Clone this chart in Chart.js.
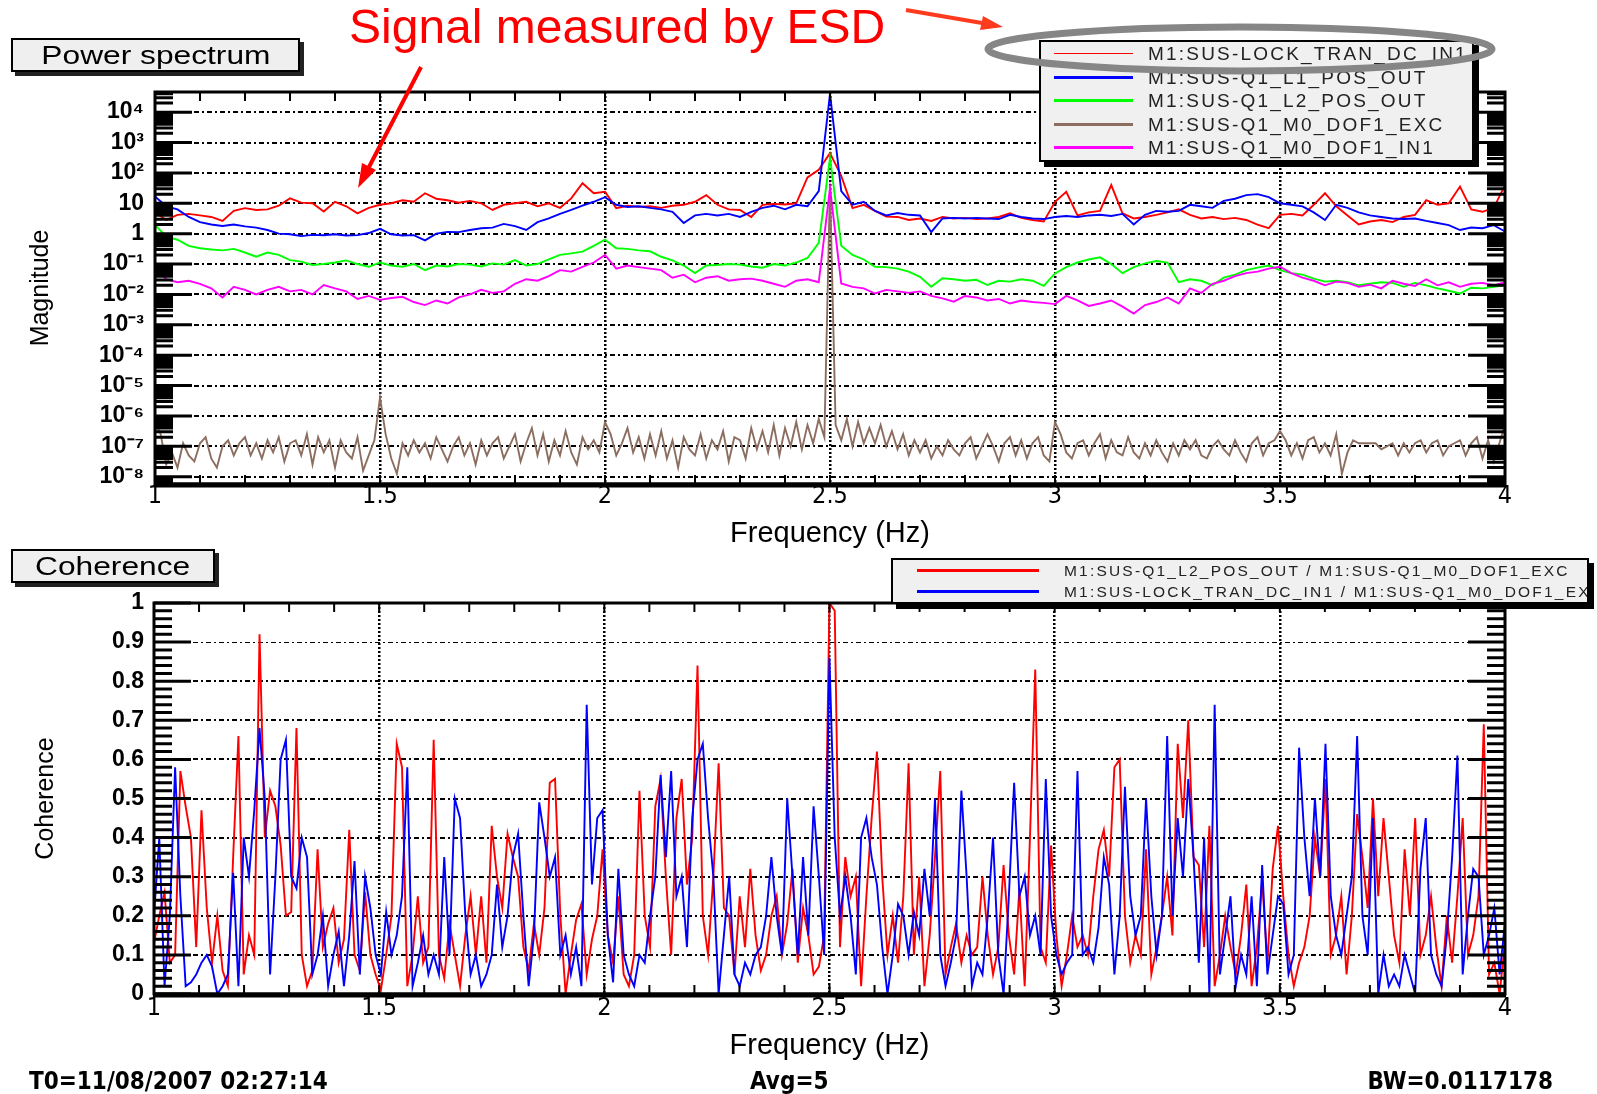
<!DOCTYPE html>
<html>
<head>
<meta charset="utf-8">
<title>Power spectrum / Coherence</title>
<script src="https://cdn.jsdelivr.net/npm/chart.js@4.4.1/dist/chart.umd.min.js"></script>
<style>
  html, body { margin: 0; padding: 0; background: #fff; }
  #page { position: relative; width: 1597px; height: 1094px; overflow: hidden; font-family: 'Liberation Sans', Arial, sans-serif; }
  #page canvas { position: absolute; left: 0; top: 0; }
  .tag { position: absolute; background: #efefef; border: 2px solid #000; box-shadow: 4px 4px 0 #222;
         font-size: 26px; text-align: center; color: #000; }
  .tag span { display: inline-block; transform: scaleX(1.22); }
  .legend { position: absolute; background: #f0f0f0; border: 2px solid #000; box-shadow: 5px 5px 0 #000;
            overflow: hidden; white-space: nowrap; color: #222; }
  .legend .row { position: relative; }
  .legend .swatch { position: absolute; }
  .legend .label { position: absolute; top: 0; }
  .foot { position: absolute; top: 1067px; font-family: 'Liberation Sans Narrow', 'DejaVu Sans Condensed', sans-serif;
          font-weight: bold; font-size: 24px; color: #000; }
  .note { position: absolute; left: 349px; top: -1px; color: #f00; font-size: 48px; white-space: nowrap; }
  svg { position: absolute; left: 0; top: 0; }
</style>
</head>
<body>
<div id="page">
  <canvas id="spectrum" width="1597" height="1094"></canvas>
  <canvas id="coherence" width="1597" height="1094"></canvas>

  <div class="tag" style="left:11px;top:38px;width:285px;height:30px;line-height:30px;"><span>Power spectrum</span></div>
  <div class="tag" style="left:11px;top:549px;width:200px;height:30px;line-height:30px;"><span>Coherence</span></div>

  <div id="specLegend" class="legend" style="left:1039px;top:40px;width:431px;height:118px;"></div>
  <div id="cohLegend" class="legend" style="left:891px;top:558px;width:694px;height:42px;"></div>

  <div class="note">Signal measured by ESD</div>

  <div class="foot" style="left:29px;">T0=11/08/2007 02:27:14</div>
  <div class="foot" style="left:750px;">Avg=5</div>
  <div class="foot" style="right:44px;">BW=0.0117178</div>

  <svg width="1597" height="1094">
    <ellipse cx="1240" cy="49" rx="252" ry="22" fill="none" stroke="#868686" stroke-width="7"/>
    <line x1="421" y1="67" x2="369" y2="167" stroke="#ff0000" stroke-width="4"/>
    <polygon points="358,188 376,170 362,163" fill="#ff0000"/>
    <line x1="906" y1="10" x2="982" y2="23" stroke="#ff3b1f" stroke-width="4"/>
    <polygon points="1003,27 980,30 983,16" fill="#ff3b1f"/>
  </svg>
</div>

<script>
// frequency grids (Hz)
const specStep = 0.025;       // magnitude traces
const excStep = 0.0125;       // excitation trace
const binWidth = 0.0117178;   // coherence bins (BW)

const freqLabels = [1, 1.5, 2, 2.5, 3, 3.5, 4];
const magDecades = [1e-8, 1e-7, 1e-6, 1e-5, 1e-4, 1e-3, 1e-2, 1e-1, 1, 10, 1e2, 1e3, 1e4];
const cohTicks = [0, 0.1, 0.2, 0.3, 0.4, 0.5, 0.6, 0.7, 0.8, 0.9, 1];

// log10 of magnitude, 1 Hz .. 4 Hz
const lockTranDcIn1 = [
  0.70, 0.45, 0.62, 0.65, 0.60, 0.55, 0.42, 0.75, 0.84, 0.78,
  0.80, 0.92, 1.16, 1.02, 1.00, 0.73, 1.05, 0.90, 0.67, 0.85,
  0.95, 1.00, 1.10, 1.05, 1.33, 1.15, 1.10, 1.02, 1.08, 1.00,
  0.78, 0.95, 1.00, 1.05, 0.90, 1.00, 0.85, 1.16, 1.66, 1.33,
  1.38, 0.84, 0.92, 0.88, 0.90, 0.85, 0.92, 0.95, 1.05, 1.27,
  0.95, 0.80, 0.78, 0.55, 0.95, 0.98, 0.96, 1.00, 1.85, 2.10,
  2.65, 1.90, 0.84, 0.95, 0.75, 0.56, 0.55, 0.45, 0.50, 0.42,
  0.55, 0.50, 0.52, 0.48, 0.50, 0.55, 0.67, 0.52, 0.45, 0.40,
  1.05, 1.38, 0.60, 0.70, 0.75, 1.60, 0.67, 0.50, 0.55, 0.62,
  0.70, 0.80, 0.62, 0.50, 0.55, 0.48, 0.52, 0.45, 0.30, 0.18,
  0.62, 0.65, 0.60, 0.95, 1.33, 0.90, 0.60, 0.30, 0.40, 0.45,
  0.38, 0.55, 0.62, 1.10, 0.95, 1.00, 1.55, 0.80, 0.72, 0.85,
  1.60
];
const q1L1PosOut = [
  1.22, 0.90, 0.80, 0.55, 0.38, 0.30, 0.25, 0.30, 0.24, 0.20,
  0.12, 0.00, -0.02, -0.08, -0.04, -0.05, -0.02, -0.06, -0.05, 0.02,
  0.16, -0.02, -0.06, -0.05, -0.22, 0.00, 0.06, 0.05, 0.12, 0.18,
  0.20, 0.32, 0.25, 0.12, 0.38, 0.50, 0.65, 0.78, 0.92, 1.05,
  1.20, 0.95, 0.88, 0.90, 0.85, 0.80, 0.72, 0.35, 0.60, 0.65,
  0.60, 0.65, 0.55, 0.72, 0.85, 0.92, 0.80, 0.95, 0.90, 1.40,
  4.60, 1.40, 0.95, 1.05, 0.75, 0.60, 0.68, 0.62, 0.60, 0.05,
  0.50, 0.52, 0.50, 0.52, 0.50, 0.48, 0.62, 0.55, 0.50, 0.48,
  0.55, 0.58, 0.55, 0.60, 0.62, 0.58, 0.65, 0.30, 0.62, 0.75,
  0.72, 0.75, 0.95, 0.90, 0.85, 1.08, 1.15, 1.27, 1.30, 1.20,
  1.00, 0.95, 0.90, 0.70, 0.45, 0.95, 0.85, 0.70, 0.60, 0.55,
  0.50, 0.48, 0.50, 0.42, 0.35, 0.28, 0.12, 0.20, 0.18, 0.28,
  0.07
];
const q1L2PosOut = [
  0.29, -0.10, -0.20, -0.40, -0.48, -0.52, -0.55, -0.50, -0.62, -0.76,
  -0.62, -0.70, -0.87, -0.92, -1.03, -1.00, -0.95, -0.88, -1.00, -1.09,
  -0.95, -1.05, -1.09, -1.00, -1.20, -1.05, -1.08, -1.00, -1.02, -1.08,
  -0.98, -1.02, -0.87, -1.05, -1.00, -0.85, -0.70, -0.65, -0.59, -0.40,
  -0.20, -0.48, -0.50, -0.55, -0.58, -0.76, -0.88, -1.05, -1.30, -1.05,
  -1.03, -1.00, -1.02, -1.08, -1.12, -1.00, -1.05, -0.95, -0.80, -0.30,
  2.50, -0.40, -0.70, -0.85, -1.09, -1.10, -1.15, -1.25, -1.42, -1.75,
  -1.47, -1.50, -1.55, -1.52, -1.69, -1.55, -1.58, -1.50, -1.55, -1.72,
  -1.31, -1.10, -0.95, -0.85, -0.78, -1.00, -1.30, -1.10, -0.98, -0.90,
  -0.95, -1.60, -1.50, -1.55, -1.70, -1.45, -1.35, -1.20, -1.12, -1.05,
  -1.20, -1.30, -1.35, -1.48, -1.58, -1.55, -1.60, -1.70, -1.65, -1.60,
  -1.62, -1.75, -1.62, -1.70, -1.80, -1.88, -1.97, -1.78, -1.80, -1.75,
  -1.70
];
const m0Dof1In1 = [
  -1.15, -1.50, -1.60, -1.55, -1.65, -1.80, -2.10, -1.75, -1.85, -2.00,
  -1.85, -1.75, -1.90, -1.85, -2.00, -1.69, -1.80, -1.90, -2.15, -2.05,
  -2.18, -2.12, -2.08, -2.25, -2.35, -2.20, -2.30, -2.10, -2.00, -1.85,
  -1.95, -1.90, -1.65, -1.50, -1.55, -1.40, -1.20, -1.25, -1.09, -0.95,
  -0.70, -1.15, -1.05, -1.10, -1.15, -1.20, -1.45, -1.35, -1.60, -1.45,
  -1.40, -1.55, -1.50, -1.48, -1.55, -1.65, -1.75, -1.55, -1.50, -1.60,
  1.50, -1.64, -1.75, -1.80, -1.97, -1.85, -1.90, -1.95, -1.90, -2.05,
  -2.13, -2.24, -2.05, -2.10, -2.20, -2.15, -2.30, -2.20, -2.25, -2.28,
  -2.32, -2.05, -2.20, -2.38, -2.30, -2.20, -2.40, -2.63, -2.35, -2.25,
  -2.10, -2.30, -1.80, -1.95, -1.65, -1.55, -1.40, -1.30, -1.25, -1.15,
  -1.09, -1.30, -1.45, -1.55, -1.70, -1.58, -1.62, -1.75, -1.68, -1.80,
  -1.55, -1.65, -1.72, -1.50, -1.70, -1.60, -1.75, -1.65, -1.62, -1.70,
  -1.60
];
// excitation, log10 magnitude, finer grid
const m0Dof1Exc = [
  -6.2, -6.6, -7.6, -7.2, -7.7, -6.9, -7.3, -7.5,
  -6.9, -6.7, -7.4, -7.7, -7.0, -6.8, -7.3, -6.9,
  -6.7, -7.3, -6.9, -7.4, -6.8, -7.2, -6.7, -7.5,
  -6.9, -6.8, -7.3, -6.6, -7.6, -6.7, -7.2, -6.8,
  -7.7, -6.8, -7.2, -7.4, -6.7, -7.8, -7.3, -6.8,
  -5.4, -6.6, -7.4, -7.9, -6.9, -7.3, -6.8, -7.2,
  -6.9, -7.4, -6.7, -7.1, -7.5, -7.0, -6.7, -7.3,
  -6.9, -7.6, -6.8, -7.3, -6.9, -6.7, -7.4, -7.0,
  -6.6, -7.5, -6.9, -6.4, -7.3, -6.6, -7.5, -6.8,
  -7.3, -6.5, -7.2, -7.6, -6.7, -7.1, -6.8, -7.2,
  -6.2, -6.6, -7.3, -6.9, -6.4, -7.2, -6.7, -7.4,
  -6.6, -7.3, -6.5, -7.4, -6.8, -7.7, -6.7, -7.1,
  -7.3, -6.6, -7.4, -6.8, -7.1, -6.5, -7.5, -6.7,
  -6.8, -7.4, -6.4, -7.1, -6.5, -7.2, -6.3, -7.3,
  -6.4, -7.0, -6.2, -7.1, -6.3, -6.9, -6.1, -6.7,
  1.6, -6.3, -6.8, -6.1, -7.0, -6.2, -6.9, -6.4,
  -6.9, -6.3, -7.0, -6.5, -7.1, -6.6, -7.3, -6.8,
  -7.2, -6.8, -7.4, -7.0, -7.3, -6.8, -7.1, -7.3,
  -6.9, -6.7, -7.4, -7.0, -6.6, -7.0, -7.5, -6.9,
  -6.7, -7.3, -6.8, -7.4, -6.9, -6.7, -7.3, -7.5,
  -6.2, -6.6, -7.2, -7.4, -6.9, -6.8, -7.3, -6.9,
  -6.6, -7.4, -6.8, -7.2, -7.3, -6.7, -7.2, -7.4,
  -6.9, -7.3, -6.8, -7.2, -7.5, -6.9, -7.3, -6.8,
  -7.1, -6.8, -7.3, -7.4, -7.0, -6.8, -7.1, -7.3,
  -6.8, -7.2, -7.5, -6.9, -6.7, -7.3, -6.9, -6.8,
  -6.5, -6.8, -7.3, -6.9, -7.4, -6.8, -6.7, -7.2,
  -6.9, -7.3, -6.6, -7.9, -7.2, -6.8, -6.9, -6.9,
  -6.9, -6.9, -7.1, -7.0, -6.9, -7.3, -6.9, -7.2,
  -6.9, -6.8, -7.2, -6.9, -6.8, -7.3, -7.0, -6.9,
  -6.8, -7.3, -6.9, -6.7, -7.4, -6.8, -7.5, -6.9,
  -6.3
];

// coherence per bin
const cohL2Exc = [
  0.13, 0.20, 0.26, 0.08, 0.10, 0.57, 0.48, 0.40, 0.12, 0.47,
  0.22, 0.08, 0.20, 0.06, 0.02, 0.35, 0.66, 0.05, 0.15, 0.10,
  0.92, 0.40, 0.52, 0.48, 0.38, 0.20, 0.21, 0.68, 0.10, 0.02,
  0.06, 0.37, 0.12, 0.18, 0.22, 0.08, 0.14, 0.42, 0.10, 0.06,
  0.26, 0.10, 0.05, 0.01, 0.10, 0.20, 0.64, 0.58, 0.02, 0.10,
  0.25, 0.08, 0.12, 0.65, 0.10, 0.04, 0.18, 0.10, 0.02, 0.15,
  0.25, 0.10, 0.25, 0.08, 0.43, 0.30, 0.22, 0.41, 0.35, 0.30,
  0.12, 0.06, 0.18, 0.10, 0.22, 0.54, 0.55, 0.20, 0.00, 0.10,
  0.19, 0.23, 0.05, 0.14, 0.20, 0.37, 0.15, 0.08, 0.25, 0.05,
  0.02, 0.10, 0.52, 0.20, 0.12, 0.48, 0.55, 0.30, 0.10, 0.45,
  0.55, 0.28, 0.40, 0.84, 0.20, 0.10, 0.30, 0.59, 0.22, 0.20,
  0.05, 0.25, 0.12, 0.32, 0.15, 0.06, 0.10, 0.20, 0.25, 0.10,
  0.18, 0.32, 0.08, 0.22, 0.15, 0.05, 0.07, 0.15, 1.00, 0.98,
  0.12, 0.35, 0.25, 0.30, 0.02, 0.25, 0.45, 0.62, 0.30, 0.10,
  0.20, 0.08, 0.25, 0.59, 0.10, 0.30, 0.02, 0.15, 0.35, 0.57,
  0.05, 0.12, 0.18, 0.08, 0.15, 0.10, 0.12, 0.30, 0.15, 0.05,
  0.12, 0.33, 0.15, 0.05, 0.27, 0.02, 0.40, 0.83, 0.12, 0.08,
  0.38, 0.15, 0.02, 0.10, 0.20, 0.12, 0.15, 0.10, 0.25, 0.37,
  0.42, 0.30, 0.58, 0.60, 0.20, 0.08, 0.15, 0.10, 0.37, 0.05,
  0.12, 0.20, 0.30, 0.15, 0.64, 0.45, 0.70, 0.35, 0.33, 0.12,
  0.43, 0.02, 0.10, 0.20, 0.12, 0.05, 0.15, 0.28, 0.02, 0.12,
  0.29, 0.08, 0.32, 0.43, 0.25, 0.10, 0.02, 0.08, 0.12, 0.20,
  0.40, 0.30, 0.55, 0.10, 0.15, 0.25, 0.05, 0.20, 0.46, 0.35,
  0.22, 0.50, 0.25, 0.45, 0.30, 0.15, 0.08, 0.37, 0.20, 0.45,
  0.10, 0.15, 0.25, 0.12, 0.02, 0.20, 0.08, 0.25, 0.45, 0.10,
  0.15, 0.25, 0.69, 0.05, 0.08, 0.00, 0.13
];
const cohLockExc = [
  0.20, 0.40, 0.02, 0.20, 0.58, 0.25, 0.02, 0.03, 0.05, 0.08,
  0.10, 0.07, 0.00, 0.02, 0.05, 0.31, 0.02, 0.40, 0.30, 0.47,
  0.68, 0.50, 0.05, 0.30, 0.60, 0.65, 0.30, 0.27, 0.40, 0.35,
  0.05, 0.10, 0.20, 0.02, 0.10, 0.16, 0.02, 0.15, 0.34, 0.05,
  0.30, 0.22, 0.10, 0.05, 0.21, 0.10, 0.15, 0.25, 0.58, 0.02,
  0.08, 0.15, 0.05, 0.10, 0.05, 0.35, 0.10, 0.50, 0.45, 0.20,
  0.05, 0.10, 0.02, 0.05, 0.10, 0.28, 0.12, 0.20, 0.35, 0.41,
  0.20, 0.02, 0.15, 0.49, 0.40, 0.30, 0.35, 0.10, 0.15, 0.05,
  0.12, 0.02, 0.74, 0.28, 0.45, 0.47, 0.15, 0.03, 0.32, 0.10,
  0.05, 0.02, 0.10, 0.08, 0.20, 0.30, 0.56, 0.35, 0.57, 0.25,
  0.30, 0.12, 0.45, 0.60, 0.64, 0.45, 0.30, 0.00, 0.15, 0.30,
  0.05, 0.02, 0.08, 0.05, 0.10, 0.12, 0.20, 0.35, 0.20, 0.10,
  0.50, 0.30, 0.10, 0.35, 0.15, 0.48, 0.30, 0.10, 0.86, 0.40,
  0.20, 0.30, 0.20, 0.05, 0.40, 0.45, 0.35, 0.28, 0.12, 0.00,
  0.10, 0.23, 0.20, 0.10, 0.21, 0.15, 0.32, 0.20, 0.50, 0.10,
  0.02, 0.08, 0.15, 0.52, 0.30, 0.02, 0.08, 0.05, 0.20, 0.40,
  0.10, 0.00, 0.25, 0.54, 0.25, 0.30, 0.15, 0.20, 0.10, 0.55,
  0.20, 0.10, 0.05, 0.08, 0.10, 0.57, 0.10, 0.12, 0.08, 0.17,
  0.35, 0.28, 0.05, 0.20, 0.53, 0.25, 0.15, 0.20, 0.50, 0.25,
  0.10, 0.20, 0.66, 0.20, 0.45, 0.30, 0.55, 0.35, 0.08, 0.40,
  0.00, 0.74, 0.05, 0.15, 0.25, 0.02, 0.10, 0.05, 0.25, 0.02,
  0.33, 0.05, 0.15, 0.25, 0.23, 0.05, 0.10, 0.63, 0.40, 0.25,
  0.50, 0.30, 0.64, 0.25, 0.15, 0.10, 0.20, 0.30, 0.66, 0.20,
  0.10, 0.45, 0.00, 0.10, 0.02, 0.05, 0.02, 0.10, 0.05, 0.00,
  0.32, 0.45, 0.10, 0.05, 0.02, 0.15, 0.35, 0.61, 0.05, 0.20,
  0.32, 0.30, 0.10, 0.15, 0.22, 0.05, 0.18
];

const sans = "'Liberation Sans', Arial, sans-serif";
const narrow = "'Liberation Sans Narrow', 'DejaVu Sans Condensed', 'Liberation Sans', sans-serif";

const points = (vals, step, logged) =>
  vals.map((v, i) => ({ x: 1 + i * step, y: logged ? Math.pow(10, v) : v }));

const supDigits = { '-': '\u207b', '0': '\u2070', '1': '\u00b9', '2': '\u00b2', '3': '\u00b3',
  '4': '\u2074', '5': '\u2075', '6': '\u2076', '7': '\u2077', '8': '\u2078', '9': '\u2079' };
function decadeLabel(v) {
  const e = Math.round(Math.log10(v));
  if (e === 0) return '1';
  if (e === 1) return '10';
  return '10' + String(e).split('').map(c => supDigits[c]).join('');
}

// ROOT style frame: ticks drawn inward on all four sides
const rootFrame = {
  id: 'rootFrame',
  afterDatasetsDraw(chart, args, opts) {
    const { ctx, chartArea: a } = chart;
    const xs = chart.scales.x, ys = chart.scales.y;
    ctx.save();
    ctx.strokeStyle = '#000';
    ctx.lineWidth = 2;
    ctx.beginPath();
    for (let k = 10; k <= 40; k++) {
      const px = xs.getPixelForValue(k / 10);
      ctx.moveTo(px, a.top); ctx.lineTo(px, a.top + 9);
      ctx.moveTo(px, a.bottom); ctx.lineTo(px, a.bottom - 9);
    }
    ctx.stroke();
    ctx.lineWidth = 3;
    ctx.beginPath();
    opts.marks.forEach(([v, major]) => {
      const py = ys.getPixelForValue(v);
      if (py < a.top - 1 || py > a.bottom + 1) return;
      const len = major ? 37 : 18;
      ctx.moveTo(a.left, py); ctx.lineTo(a.left + len, py);
      ctx.moveTo(a.right, py); ctx.lineTo(a.right - len, py);
    });
    ctx.stroke();
    ctx.lineWidth = 3;
    ctx.strokeRect(a.left, a.top, a.right - a.left, a.bottom - a.top);
    ctx.lineWidth = 5;
    ctx.beginPath(); ctx.moveTo(a.left - 1, a.bottom + 1); ctx.lineTo(a.right + 1, a.bottom + 1); ctx.stroke();
    ctx.restore();
  }
};

const logMarks = [];
for (let n = -9; n <= 4; n++) for (let k = 1; k <= 9; k++) logMarks.push([k * Math.pow(10, n), k === 1]);
const cohMarks = [];
for (let j = 0; j <= 50; j++) cohMarks.push([j / 50, j % 5 === 0]);

function xAxis(height, labelPad) {
  return {
    type: 'linear', min: 1, max: 4, bounds: 'data',
    afterBuildTicks: s => { s.ticks = freqLabels.map(v => ({ value: v })); },
    afterFit: s => { s.height = height; },
    grid: { color: c => (c.tick && c.tick.value > 1 && c.tick.value < 4) ? '#000' : 'rgba(0,0,0,0)',
            lineWidth: 2.5, drawTicks: false },
    border: { display: false, dash: [2, 2] },
    ticks: { autoSkip: false, maxRotation: 0, padding: labelPad, color: '#000',
             font: { family: narrow, size: 25, lineHeight: 1 }, callback: v => String(v) },
    title: { display: true, text: 'Frequency (Hz)', color: '#000', padding: 0,
             font: { family: sans, size: 29 } }
  };
}

const spectrum = new Chart(document.getElementById('spectrum'), {
  type: 'line',
  data: {
    datasets: [
      { label: 'M1:SUS-LOCK_TRAN_DC_IN1', data: points(lockTranDcIn1, specStep, true), borderColor: '#ff0000', order: 5, legendWidth: 1 },
      { label: 'M1:SUS-Q1_L1_POS_OUT', data: points(q1L1PosOut, specStep, true), borderColor: '#0000ff', order: 4, legendWidth: 3 },
      { label: 'M1:SUS-Q1_L2_POS_OUT', data: points(q1L2PosOut, specStep, true), borderColor: '#00ff00', order: 3, legendWidth: 3 },
      { label: 'M1:SUS-Q1_M0_DOF1_EXC', data: points(m0Dof1Exc, excStep, true), borderColor: '#8c6e60', order: 2, legendWidth: 3 },
      { label: 'M1:SUS-Q1_M0_DOF1_IN1', data: points(m0Dof1In1, specStep, true), borderColor: '#ff00ff', order: 1, legendWidth: 3 }
    ]
  },
  options: {
    responsive: false, animation: false,
    layout: { padding: { left: 0, top: 92, right: 92, bottom: 1094 - 484 - 67 } },
    elements: { point: { radius: 0 }, line: { borderWidth: 1.9, tension: 0 } },
    plugins: { legend: { display: false }, tooltip: { enabled: false }, rootFrame: { marks: logMarks } },
    scales: {
      x: xAxis(67, 0),
      y: {
        type: 'logarithmic', min: 5.75e-9, max: 4.6e4, bounds: 'data',
        afterBuildTicks: s => { s.ticks = magDecades.map(v => ({ value: v })); },
        afterFit: s => { s.width = 155; },
        grid: { color: '#000', lineWidth: 2, drawTicks: false },
        border: { display: false, dash: [5, 3, 2, 3] },
        ticks: { padding: 11, color: '#000', font: { family: sans, size: 23, weight: 'bold' }, callback: v => decadeLabel(v) },
        title: { display: true, text: 'Magnitude', color: '#000', padding: { top: 26, bottom: 0 },
                 font: { family: sans, size: 25 } }
      }
    }
  },
  plugins: [rootFrame]
});

const coherence = new Chart(document.getElementById('coherence'), {
  type: 'line',
  data: {
    datasets: [
      { label: 'M1:SUS-Q1_L2_POS_OUT / M1:SUS-Q1_M0_DOF1_EXC', data: points(cohL2Exc, binWidth, false), borderColor: '#ff0000', order: 2, legendWidth: 3 },
      { label: 'M1:SUS-LOCK_TRAN_DC_IN1 / M1:SUS-Q1_M0_DOF1_EXC', data: points(cohLockExc, binWidth, false), borderColor: '#0000ff', order: 1, legendWidth: 3 }
    ]
  },
  options: {
    responsive: false, animation: false,
    layout: { padding: { left: 0, top: 603, right: 92, bottom: 1094 - 994 - 69 } },
    elements: { point: { radius: 0 }, line: { borderWidth: 1.9, tension: 0 } },
    plugins: { legend: { display: false }, tooltip: { enabled: false }, rootFrame: { marks: cohMarks } },
    scales: {
      x: xAxis(69, 2),
      y: {
        type: 'linear', min: 0, max: 1, bounds: 'data',
        afterBuildTicks: s => { s.ticks = cohTicks.map(v => ({ value: v })); },
        afterFit: s => { s.width = 154; },
        grid: { color: c => (c.tick && c.tick.value > 0 && c.tick.value < 1) ? '#000' : 'rgba(0,0,0,0)',
                lineWidth: c => (c.tick && c.tick.value === 0.9) ? 1 : 2, drawTicks: false },
        border: { display: false, dash: [5, 3, 2, 3] },
        ticks: { padding: 10, color: '#000', font: { family: sans, size: 23, weight: 'bold' },
                 callback: v => (v === 0 || v === 1) ? String(v) : v.toFixed(1) },
        title: { display: true, text: 'Coherence', color: '#000', padding: { top: 31, bottom: 0 },
                 font: { family: sans, size: 25 } }
      }
    }
  },
  plugins: [rootFrame]
});

// legends built from the chart datasets
function buildLegend(el, chart, o) {
  chart.data.datasets.forEach(ds => {
    const row = document.createElement('div');
    row.className = 'row';
    row.style.height = o.rowH + 'px';
    const sw = document.createElement('span');
    sw.className = 'swatch';
    sw.style.cssText = `left:${o.swLeft}px;width:${o.swWidth}px;top:${(o.rowH - ds.legendWidth) / 2}px;` +
                       `height:${ds.legendWidth}px;background:${ds.borderColor}`;
    const tx = document.createElement('span');
    tx.className = 'label';
    tx.textContent = ds.label;
    tx.style.cssText = `left:${o.textLeft}px;line-height:${o.rowH}px;font-size:${o.fontSize}px;letter-spacing:${o.spacing}px`;
    row.append(sw, tx);
    el.append(row);
  });
}
buildLegend(document.getElementById('specLegend'), spectrum,
  { rowH: 23.5, swLeft: 13, swWidth: 79, textLeft: 107, fontSize: 19, spacing: 2.2 });
buildLegend(document.getElementById('cohLegend'), coherence,
  { rowH: 21, swLeft: 24, swWidth: 122, textLeft: 171, fontSize: 15.5, spacing: 2.2 });
</script>
</body>
</html>
